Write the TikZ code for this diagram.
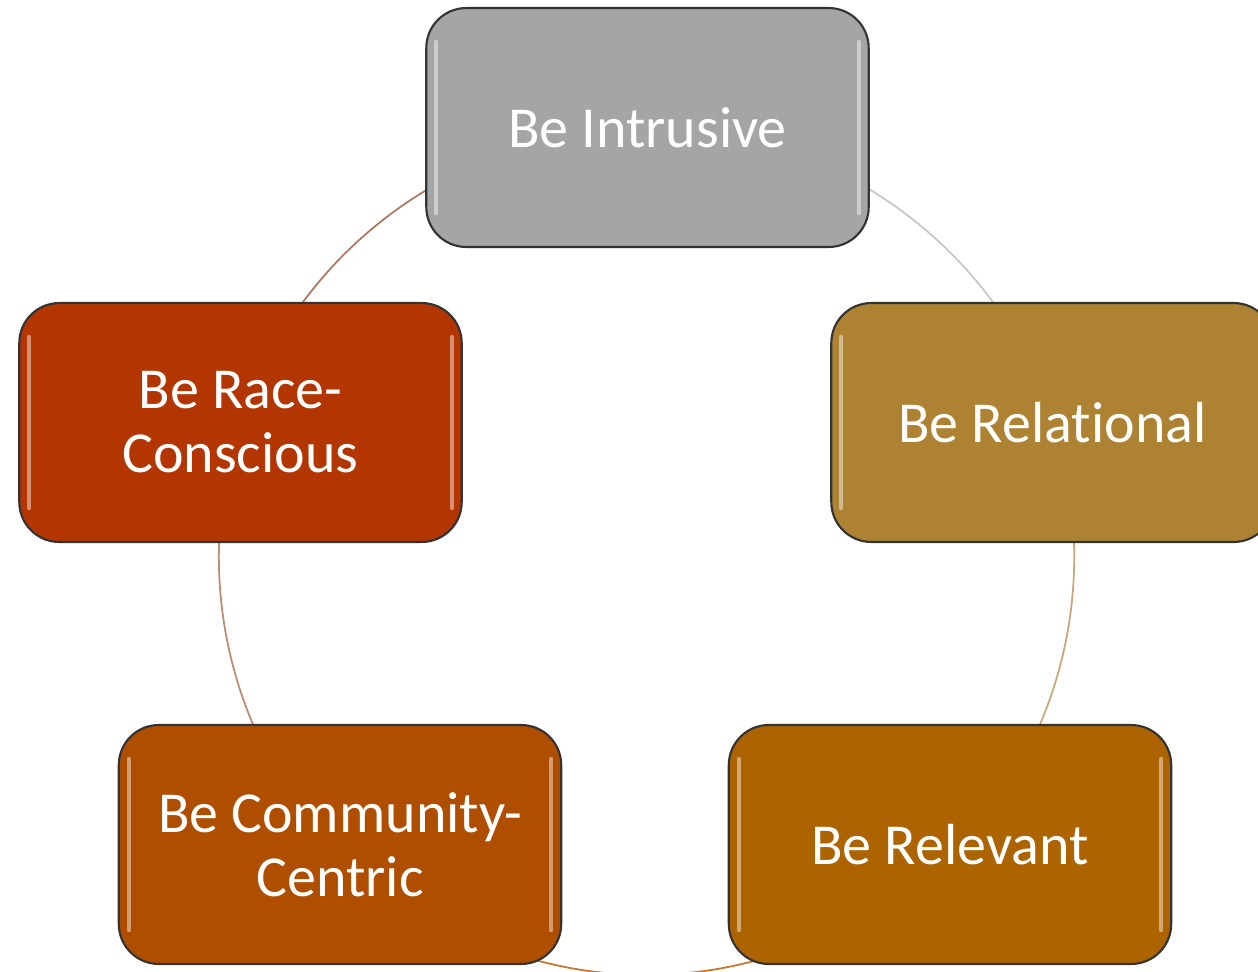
\documentclass[tikz,border=0pt]{standalone}
\usepackage{fontspec}
\setmainfont{Carlito}[Ligatures={NoCommon,NoContextual}]
\usetikzlibrary{backgrounds}

\definecolor{fillIntrusive}{HTML}{A5A5A5}
\definecolor{fillRelational}{HTML}{AD8333}
\definecolor{fillRelevant}{HTML}{AD6400}
\definecolor{fillCommunity}{HTML}{B04E00}
\definecolor{fillRace}{HTML}{B33600}

\begin{document}
\begin{tikzpicture}[x=0.02cm,y=-0.02cm,
  cyclebox/.style={draw=black!80,line width=1.2pt,rounded corners=0.8cm,
    minimum width=8.85cm,minimum height=4.78cm,text=white,align=center,
    font=\fontsize{33}{36.5}\selectfont},
  cyclearc/.style={line width=1pt},
  shine/.style={white,opacity=0.45,line width=2.5pt,line cap=round}]

\useasboundingbox (0,0) rectangle (1258,971);

\node[cyclebox,fill=fillIntrusive]  (intrusive)  at (647.5,127.5) {Be Intrusive};
\node[cyclebox,fill=fillRelational] (relational) at (1052.5,422.5) {Be Relational};
\node[cyclebox,fill=fillRelevant]   (relevant)   at (950,844.5) {Be Relevant};
\node[cyclebox,fill=fillCommunity]  (community)  at (340,844.5) {Be Community-\\Centric};
\node[cyclebox,fill=fillRace]       (race)       at (240.5,422.5) {Be Race-\\Conscious};

\foreach \boxname in {intrusive,relational,relevant,community,race} {
	\draw[shine] ([xshift=0.22cm,yshift=-0.7cm]\boxname.north west)--([xshift=0.22cm,yshift=0.7cm]\boxname.south west);
	\draw[shine] ([xshift=-0.22cm,yshift=-0.7cm]\boxname.north east)--([xshift=-0.22cm,yshift=0.7cm]\boxname.south east);
}

\begin{scope}[on background layer]
\draw[cyclearc,color=black!22] (intrusive.center) arc[start angle=-90,end angle=-18.35,radius=429];
\draw[cyclearc,color={rgb,255:red,200;green,168;blue,120}] (relational.center) arc[start angle=-18.35,end angle=43.45,radius=427];
\draw[cyclearc,color={rgb,255:red,200;green,120;blue,40}] (relevant.center) arc[start angle=43.45,end angle=136.83,radius=418];
\draw[cyclearc,color={rgb,255:red,185;green,140;blue,115}] (race.center) arc[start angle=198.3,end angle=136.83,radius=428];
\draw[cyclearc,color={rgb,255:red,176;green,120;blue,96}] (race.center) arc[start angle=198.3,end angle=270,radius=428];
\end{scope}

\end{tikzpicture}
\end{document}
